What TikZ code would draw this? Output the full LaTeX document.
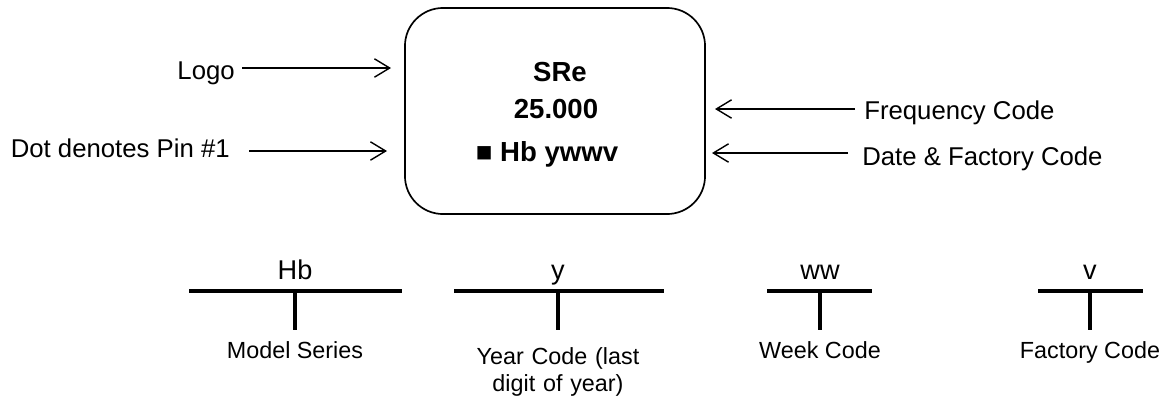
\documentclass[tikz,border=0pt]{standalone}
\usepackage{fontspec}
\setmainfont{Liberation Sans}
\usetikzlibrary{arrows.meta}

\begin{document}
\begin{tikzpicture}[x=0.025cm, y=-0.025cm,
    pointer/.style={line width=1pt, -{Straight Barb[length=0.38cm, width=0.46cm]}},
    sidetext/.style={font=\fontsize{18.3}{22}\selectfont, inner ysep=0pt},
    chiptext/.style={font=\bfseries\fontsize{19.6}{23}\selectfont, inner sep=0pt, anchor=base},
    codetext/.style={font=\fontsize{19.3}{23}\selectfont, anchor=base, text depth=0pt, inner xsep=0pt, inner ysep=0.3cm},
    desctext/.style={font=\fontsize{16.6}{19.2}\selectfont, anchor=base, inner xsep=0pt, inner ysep=0.27cm},
    bar/.style={line width=2.3pt}]
    \useasboundingbox (0,0) rectangle (1171,403);

    % Draw the part outline
    \node[draw, line width=1.2pt, rounded corners=0.95cm, minimum width=7.5cm, minimum height=5.15cm] (chip) at (555,111) {};

    % Place the marking lines inside the part
    \node[chiptext] (series) at (560,81) {SRe};
    \node[chiptext] (freq) at (556,118) {25.000};
    \node[chiptext] (date) at (547,161) {■ Hb ywwv};

    % Place the callouts on both sides
    \node[sidetext, anchor=base east, inner xsep=0.175cm] (logo) at (242,79) {Logo};
    \node[sidetext, anchor=base east, inner xsep=0.475cm] (pin) at (249,157) {Dot denotes Pin \#1};
    \node[sidetext, anchor=base west, inner xsep=0.225cm] (freqcode) at (855,119) {Frequency Code};
    \node[sidetext, anchor=base west, inner xsep=0.35cm] (datecode) at (848,165) {Date \& Factory Code};

    \coordinate (logotip) at (391,68);
    \coordinate (pintip) at (387,151);
    \coordinate (freqtip) at (715,109);
    \coordinate (datetip) at (712,153);

    \draw[pointer] (logo.east |- logotip) -- (logotip);
    \draw[pointer] (pin.east |- pintip) -- (pintip);
    \draw[pointer] (freqcode.west |- freqtip) -- (freqtip);
    \draw[pointer] (datecode.west |- datetip) -- (datetip);

    % Break down the date code
    \node[codetext] (hb) at (295,279) {Hb};
    \node[codetext] (yy) at (558,279) {y};
    \node[codetext] (ww) at (820,279) {ww};
    \node[codetext] (vv) at (1090,279) {v};

    \node[desctext] (model) at (295,358) {Model Series};
    \node[desctext, text width=6cm, align=center, inner ysep=0.425cm] (year) at (558,364) {Year Code (last\\digit of year)};
    \node[desctext] (week) at (820,358) {Week Code};
    \node[desctext] (factory) at (1090,358) {Factory Code};

    \coordinate (hbleft) at (189,291);
    \coordinate (hbright) at (402,291);
    \coordinate (yyleft) at (454,291);
    \coordinate (yyright) at (664,291);
    \coordinate (wwleft) at (767,291);
    \coordinate (wwright) at (872,291);
    \coordinate (vvleft) at (1038,291);
    \coordinate (vvright) at (1143,291);

    \draw[bar] (hbleft) -- (hbright);
    \draw[bar] (yyleft) -- (yyright);
    \draw[bar] (wwleft) -- (wwright);
    \draw[bar] (vvleft) -- (vvright);

    \draw[bar] (hb.south) -- (model.north);
    \draw[bar] (yy.south) -- (year.north);
    \draw[bar] (ww.south) -- (week.north);
    \draw[bar] (vv.south) -- (factory.north);
\end{tikzpicture}
\end{document}
